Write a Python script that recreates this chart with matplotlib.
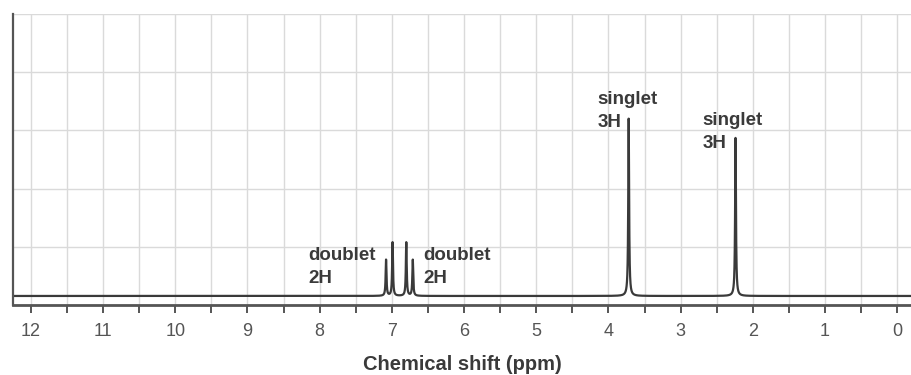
import numpy as np
import matplotlib.pyplot as plt

# peak data (ppm, height in grid units)
peak_ppm = [7.08, 6.99, 6.80, 6.71, 3.72, 2.24]
peak_height = [0.62, 0.92, 0.92, 0.62, 3.05, 2.72]
baseline = 0.155

labels = ["doublet\n2H", "doublet\n2H", "singlet\n3H", "singlet\n3H"]
label_x = [8.16, 6.57, 4.155, 2.70]
label_y = [1.0, 1.0, 3.68, 3.32]

ticks = list(range(0, 13))

plt.rcParams['font.family'] = ['Liberation Sans', 'DejaVu Sans']

fig = plt.figure(figsize=(9.11, 3.75), dpi=100)
ax = fig.add_axes([0.014, 0.1867, 0.986, 0.776])

x = np.linspace(12.3, -0.3, 20000)
y = np.full_like(x, baseline)
w = 0.007
for p, h in zip(peak_ppm, peak_height):
    y += h * w**2 / ((x - p)**2 + w**2)
ax.plot(x, y, color='#3a3a3a', lw=1.6)

for t, lx, ly in zip(labels, label_x, label_y):
    ax.text(lx, ly, t, ha='left', va='top', fontsize=13.5, fontweight='bold',
            color='#3a3a3a', linespacing=1.5)

ax.set_xlim(12.25, -0.19)
ax.set_ylim(0, 5)
ax.set_xticks(ticks)
ax.set_xticks(np.arange(0.5, 12.5, 1), minor=True)
ax.set_xticklabels([str(t) for t in ticks], fontsize=13, color='#555555')
ax.set_yticks(range(0, 6))
ax.set_yticklabels([])
ax.tick_params(axis='y', length=0)
ax.tick_params(axis='x', which='both', direction='out', length=6, width=1.4,
               color='#555555', pad=7)
ax.grid(True, which='both', color='#dadada', lw=1)
ax.set_axisbelow(True)

for s in ['top', 'right']:
    ax.spines[s].set_visible(False)
ax.spines['bottom'].set_color('#555555')
ax.spines['bottom'].set_linewidth(2)
ax.spines['left'].set_color('#555555')
ax.spines['left'].set_linewidth(1.6)

ax.set_xlabel('Chemical shift (ppm)', fontsize=14.5, fontweight='bold',
              color='#3a3a3a', labelpad=11)

fig.savefig('out.png', dpi=100)
